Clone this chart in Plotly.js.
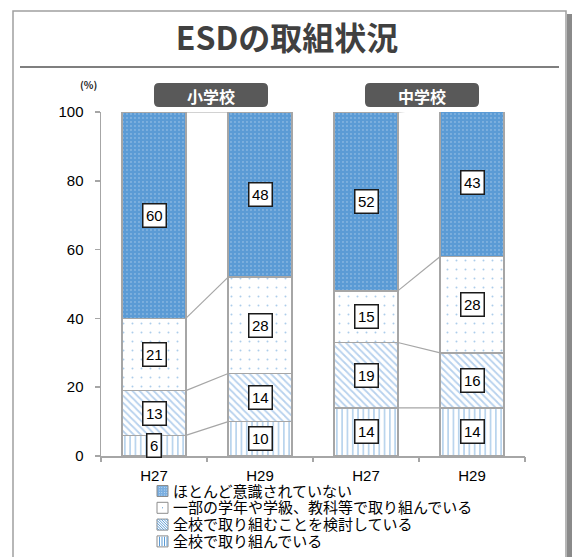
<!DOCTYPE html>
<html><head><meta charset="utf-8">
<script src="https://cdn.plot.ly/plotly-3.0.1.min.js"></script>
<style>html,body{margin:0;padding:0;background:#fff;} #chart{width:574px;height:557px;}</style>
</head><body><div id="chart"></div>
<script>
// ---- data ----
const categories = ['H27', 'H29', 'H27', 'H29'];
const groupNames = ['小学校', '中学校'];
const seriesNames = ['全校で取り組んでいる', '全校で取り組むことを検討している', '一部の学年や学級、教科等で取り組んでいる', 'ほとんど意識されていない'];
const sWhole    = [6, 10, 14, 14];
const sConsider = [13, 14, 19, 16];
const sPartial  = [21, 28, 15, 28];
const sNone     = [60, 48, 52, 43];
const yTicks = [0, 20, 40, 60, 80, 100];
const titleText = 'ESDの取組状況';
const unitText = '(%)';

// ---- geometry helpers ----
const W = 574, H = 557, L = 101, R = 49, T = 112, B = 101;
const pw = W - L - R, ph = H - T - B;
const px = x => (x - L) / pw;
const py = y => (H - B - y) / ph;

const series = [sWhole, sConsider, sPartial, sNone];
const xs = categories.map((c, i) => i);
const barW = 0.6;
const styles = [
  {bg: '#ffffff', fg: '#5b9bd5', shape: '|', size: 5.3, solidity: 0.28},
  {bg: '#ffffff', fg: '#6fa3dc', shape: '\\', size: 5, solidity: 0.35},
  {bg: '#ffffff', fg: '#5b9bd5', shape: '.', size: 9, solidity: 0.04},
  {bg: '#5b9bd5', fg: '#ffffff', shape: '.', size: 4, solidity: 0.1}
];

const traces = series.map((vals, s) => ({
  type: 'bar', x: xs, y: vals, width: barW, name: seriesNames[s],
  showlegend: false, hoverinfo: 'skip',
  marker: {
    color: styles[s].bg,
    line: {color: '#a6a6a6', width: 1.5},
    pattern: {shape: styles[s].shape, fgcolor: styles[s].fg, bgcolor: styles[s].bg,
              size: styles[s].size, solidity: styles[s].solidity, fillmode: 'overlay'}
  }
}));

// cumulative sums
const cum = xs.map(i => { let c = 0; return series.map(v => (c += v[i])); });

// series connector lines (within each school group)
const lx = [], ly = [];
[[0, 1], [2, 3]].forEach(([a, b]) => {
  for (let k = 0; k < series.length; k++) {
    lx.push(a + barW / 2, b - barW / 2, null);
    ly.push(cum[a][k], cum[b][k], null);
  }
});
traces.push({type: 'scatter', mode: 'lines', x: lx, y: ly, xaxis: 'x2', yaxis: 'y',
  line: {color: '#a6a6a6', width: 1.2}, showlegend: false, hoverinfo: 'skip'});

// data labels
const annotations = [];
series.forEach((vals, s) => {
  vals.forEach((v, i) => {
    const base = s === 0 ? 0 : cum[i][s - 1];
    annotations.push({x: i, y: base + v / 2, xref: 'x', yref: 'y', text: String(v), showarrow: false,
      font: {family: 'Liberation Sans, Arial', size: 15, color: '#000'},
      bgcolor: '#ffffff', bordercolor: '#1a1a1a', borderwidth: 1.5, borderpad: 2.5});
  });
});

// group label boxes
function rrect(x0, y0, x1, y1, r) {
  const a = px(x0), b = px(x1), c = py(y0), d = py(y1), rx = r / pw, ry = r / ph;
  return `M${a + rx},${c} L${b - rx},${c} Q${b},${c} ${b},${c - ry} L${b},${d + ry} Q${b},${d} ${b - rx},${d} L${a + rx},${d} Q${a},${d} ${a},${d + ry} L${a},${c - ry} Q${a},${c} ${a + rx},${c} Z`;
}
const shapes = [];
// outer frame + shadow
shapes.push({type: 'rect', xref: 'paper', yref: 'paper', x0: px(13), x1: px(566), y0: py(11), y1: py(640),
  line: {color: '#a0a0a0', width: 1.5}, fillcolor: 'rgba(0,0,0,0)', layer: 'below'});
shapes.push({type: 'rect', xref: 'paper', yref: 'paper', x0: px(567), x1: px(572), y0: py(14), y1: py(640),
  line: {width: 0}, fillcolor: '#8a8a8a', layer: 'below'});
// title underline
shapes.push({type: 'line', xref: 'paper', yref: 'paper', x0: px(20), x1: px(559), y0: py(67), y1: py(67),
  line: {color: '#7f7f7f', width: 2}});

const groupBoxes = [[154, 268], [365, 479]];
groupNames.forEach((g, j) => {
  const [a, b] = groupBoxes[j];
  shapes.push({type: 'path', xref: 'paper', yref: 'paper', path: rrect(a, 83, b, 107, 5),
    fillcolor: '#595959', line: {width: 0}});
  annotations.push({xref: 'paper', yref: 'paper', x: px((a + b) / 2), y: py(95.5), text: g, showarrow: false,
    xanchor: 'center', yanchor: 'middle',
    font: {family: 'Noto Sans CJK JP', size: 16, color: '#ffffff', weight: 700}});
});

// unit label
annotations.push({xref: 'paper', yref: 'paper', x: px(88), y: py(84), text: unitText, showarrow: false,
  xanchor: 'center', yanchor: 'middle', font: {family: 'Noto Sans CJK JP', size: 10, color: '#222', weight: 700}});

// manual legend (top row = top series)
const legFont = 15, legLine = 16.8, legTop = 491;
const order = [3, 2, 1, 0];
const sx0 = 157, sw = 11;
order.forEach((s, r) => {
  const yc = legTop + r * legLine;
  const x0 = sx0, x1 = sx0 + sw, y0 = yc - sw / 2, y1 = yc + sw / 2;
  const fill = s === 3 ? '#7aaee0' : '#ffffff';
  shapes.push({type: 'rect', xref: 'paper', yref: 'paper', x0: px(x0), x1: px(x1), y0: py(y0), y1: py(y1),
    fillcolor: fill, line: {color: '#8c8c8c', width: 1}});
  let p = '';
  if (s === 0) {
    for (let xx = x0 + 2.5; xx < x1 - 0.5; xx += 2.5) p += `M${px(xx)},${py(y0 + 0.8)} L${px(xx)},${py(y1 - 0.8)} `;
  } else if (s === 1) {
    for (let t = -sw + 2; t < sw - 1; t += 2.6) {
      const ax = Math.max(x0, x0 + t), ay = Math.max(y0, y0 - t);
      const bx = Math.min(x1, x1 + t), by = Math.min(y1, y1 - t);
      p += `M${px(ax)},${py(ay)} L${px(bx)},${py(by)} `;
    }
  } else if (s === 2) {
    p = `M${px(x0 + 5)},${py(yc)} L${px(x0 + 6)},${py(yc)}`;
  } else {
    for (let yy = y0 + 2; yy < y1; yy += 2.5) for (let xx = x0 + 2; xx < x1; xx += 2.5)
      p += `M${px(xx)},${py(yy)} L${px(xx + 0.6)},${py(yy)} `;
  }
  shapes.push({type: 'path', xref: 'paper', yref: 'paper', path: p.trim(),
    line: {color: s === 3 ? '#ffffff' : '#5b9bd5', width: s === 3 ? 0.8 : 1}});
  annotations.push({xref: 'paper', yref: 'paper', x: px(171), y: py(yc), text: seriesNames[s], showarrow: false,
    xanchor: 'left', yanchor: 'middle',
    font: {family: 'Liberation Sans, Noto Sans CJK JP', size: legFont, color: '#000'}});
});

const layout = {
  width: W, height: H,
  margin: {l: L, r: R, t: T, b: B, pad: 0},
  paper_bgcolor: '#ffffff', plot_bgcolor: 'rgba(0,0,0,0)',
  barmode: 'stack', showlegend: false,
  title: {text: titleText, x: 287 / W, xref: 'container', xanchor: 'center', y: 1 - 39 / H, yref: 'container', yanchor: 'middle',
    font: {family: 'Noto Sans CJK JP', size: 32, color: '#404040', weight: 700}},
  xaxis: {range: [-0.5, 3.5], tickvals: xs, ticktext: categories, ticks: '', showline: true, linecolor: '#a6a6a6', linewidth: 1.5,
    showgrid: false, zeroline: false, fixedrange: true, ticklabelstandoff: 5,
    tickfont: {family: 'Liberation Sans, Arial', size: 15, color: '#000'}},
  xaxis2: {overlaying: 'x', anchor: 'y', side: 'bottom', range: [-0.5, 3.5], tickvals: [-0.5, 0.5, 1.5, 2.5, 3.5],
    ticks: 'outside', ticklen: 5, tickcolor: '#a6a6a6', tickwidth: 1.5, showticklabels: false, showgrid: false,
    zeroline: false, showline: false, fixedrange: true},
  yaxis: {range: [0, 100], tickvals: yTicks, ticks: 'outside', ticklen: 5, tickcolor: '#a6a6a6', tickwidth: 1.5,
    showline: true, linecolor: '#a6a6a6', linewidth: 1.5, showgrid: false, zeroline: false, fixedrange: true,
    ticklabelstandoff: 8, tickfont: {family: 'Liberation Sans, Arial', size: 15, color: '#000'}},
  shapes: shapes, annotations: annotations
};

Plotly.newPlot('chart', traces, layout, {displayModeBar: false, staticPlot: true});
</script></body></html>
